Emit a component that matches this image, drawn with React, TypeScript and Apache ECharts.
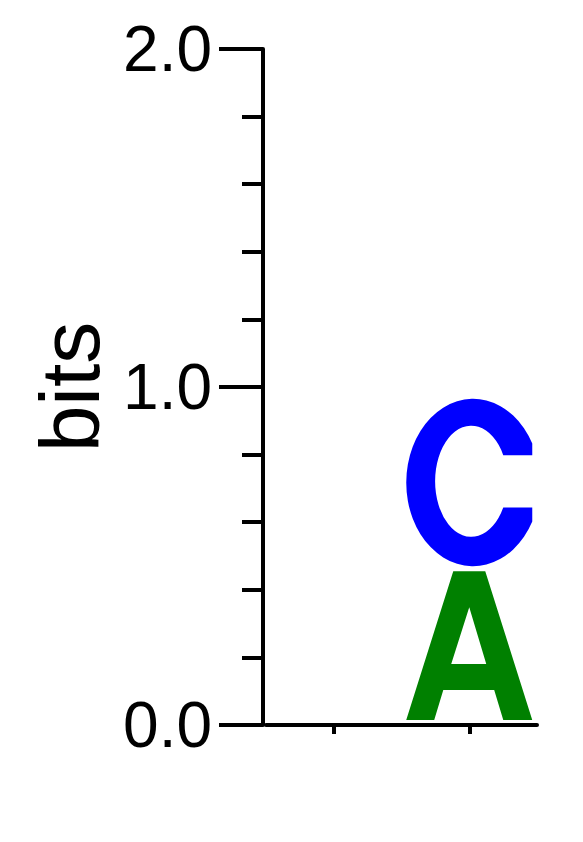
import React, { useEffect, useRef } from "react";
import * as echarts from "echarts";

// Sequence-logo data
const positions = ["1", "2"];
const stackOrder = ["A", "C"]; // bottom to top
const bitsA = [0, 0.455];
const bitsC = [0, 0.51];
const yTicks = [0, 1, 2];

const letterBits: Record<string, number[]> = { A: bitsA, C: bitsC };
const letterColors: Record<string, string> = { A: "#008000", C: "#0000ff" };

// glyph outlines in a 100x100 box
const glyphs: Record<string, string> = {
  A: "M0,100 L37.3,0 L62.7,0 L100,100 L77,100 L69.8,79.9 L29.4,79.9 L22.2,100 Z M35.7,62.4 L63.5,62.4 L50,24.2 Z",
  C: "M100,26 A53,50 0 1 0 100,72.5 L100,64.1 L77,64.1 A28.7,33.2 0 1 1 77,32.9 L100,32.9 Z",
};

export default function App() {
  const ref = useRef<HTMLDivElement>(null);
  useEffect(() => {
    if (!ref.current) return;
    const chart = echarts.init(ref.current, undefined, { renderer: "svg" });

    const data: any[] = [];
    positions.forEach((_, i) => {
      let bottom = 0;
      stackOrder.forEach((l) => {
        const h = letterBits[l][i];
        if (h > 0) {
          data.push({ value: [i, bottom, bottom + h], letter: l });
          bottom += h;
        }
      });
    });

    chart.setOption({
      animation: false,
      grid: { left: 266, top: 49, right: 46, bottom: 117 },
      xAxis: {
        type: "category",
        data: positions,
        axisLine: { lineStyle: { color: "#000", width: 4 } },
        axisTick: { show: true, interval: 0, alignWithLabel: true, length: 9, lineStyle: { color: "#000", width: 4 } },
        axisLabel: { show: false, interval: 0 },
        splitLine: { show: false },
      },
      yAxis: {
        type: "value",
        min: yTicks[0],
        max: yTicks[yTicks.length - 1],
        interval: 1,
        offset: 3,
        name: "bits",
        nameLocation: "middle",
        nameRotate: 90,
        nameGap: 151,
        nameTextStyle: { fontSize: 84, color: "#000", fontFamily: "Liberation Sans" },
        axisLine: { show: true, lineStyle: { color: "#000", width: 4 } },
        axisTick: { show: true, length: 44, lineStyle: { color: "#000", width: 4 } },
        minorTick: { show: true, splitNumber: 5, length: 21, lineStyle: { color: "#000", width: 4 } },
        axisLabel: {
          margin: 51,
          fontSize: 64,
          color: "#000",
          fontFamily: "Liberation Sans",
          formatter: (v: number) => v.toFixed(1),
        },
        splitLine: { show: false },
        minorSplitLine: { show: false },
      },
      series: [
        {
          type: "custom",
          data,
          encode: { x: 0, y: [1, 2] },
          renderItem: (params: any, api: any) => {
            const i = api.value(0);
            const lo = api.value(1);
            const hi = api.value(2);
            const pLo = api.coord([i, lo]);
            const pHi = api.coord([i, hi]);
            const bw = api.size([1, 0])[0] * 0.93;
            const letter = data[params.dataIndex].letter;
            return {
              type: "path",
              shape: {
                pathData: glyphs[letter],
                layout: "cover",
                x: pLo[0] - bw / 2,
                y: pHi[1],
                width: bw,
                height: pLo[1] - pHi[1] - 5,
              },
              style: { fill: letterColors[letter] },
            };
          },
        },
      ],
    });
    return () => chart.dispose();
  }, []);
  return (
    <div
      ref={ref}
      style={{ position: "fixed", left: 0, top: 0, width: 583, height: 842, background: "#fff" }}
    />
  );
}
